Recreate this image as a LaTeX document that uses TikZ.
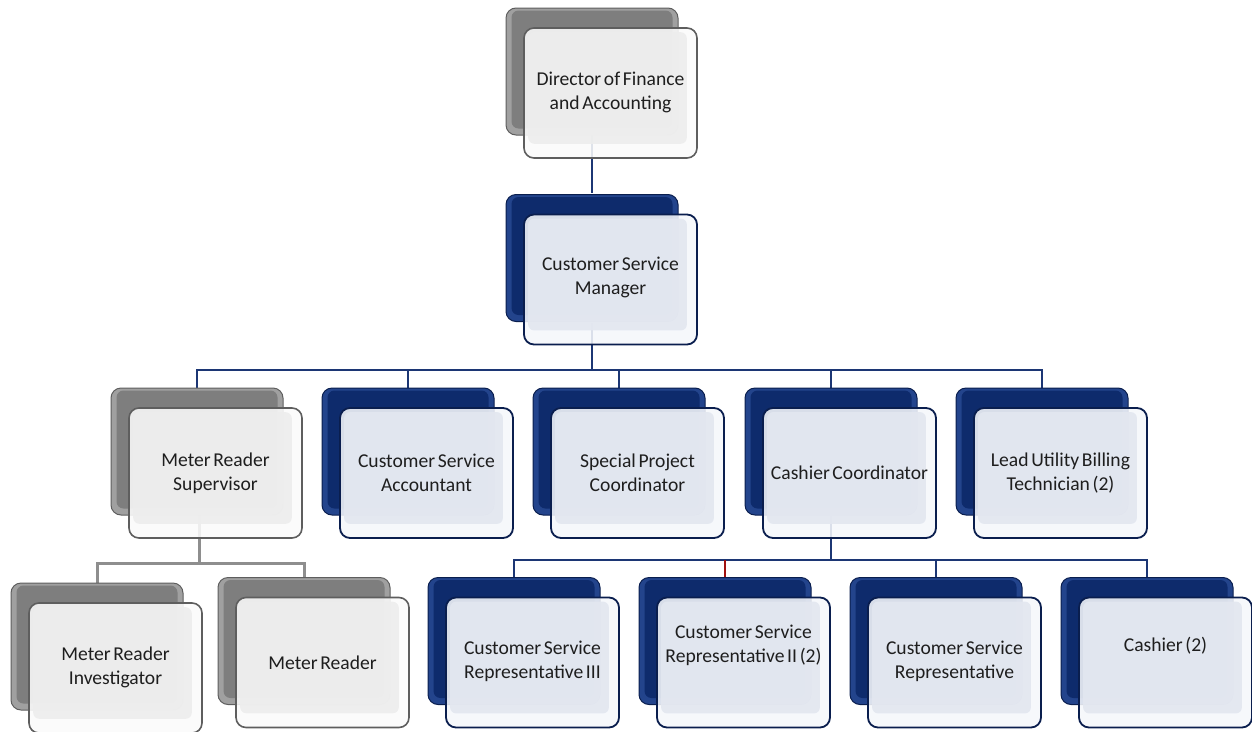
\documentclass[tikz,border=0pt]{standalone}
\usepackage{fontspec}
\setmainfont{Carlito}[WordSpace=0.6]
\definecolor{navyD}{HTML}{0A1E4E}
\definecolor{navyM}{HTML}{0E2B6C}
\definecolor{navyL}{HTML}{23448C}
\definecolor{frontN}{HTML}{E3E7F0}
\definecolor{frontNo}{HTML}{F5F7FB}
\definecolor{grayD}{HTML}{5E5E5E}
\definecolor{grayM}{HTML}{7E7E7E}
\definecolor{grayL}{HTML}{A0A0A0}
\definecolor{frontG}{HTML}{EDEDED}
\definecolor{frontGo}{HTML}{FBFBFB}
\definecolor{lineN}{HTML}{1C3674}
\definecolor{lineG}{HTML}{8E8E8E}
\definecolor{lineR}{HTML}{A01010}
\definecolor{txt}{HTML}{1E1E1E}
\tikzset{
  boxbase/.style={rounded corners=10pt, inner sep=0pt},
  backN/.style={boxbase, draw=navyD, line width=1pt, fill=navyL,
    minimum width=172pt, minimum height=127pt},
  backinN/.style={fill=navyM, rounded corners=7pt},
  backG/.style={boxbase, draw=grayD, line width=1pt, fill=grayL,
    minimum width=172pt, minimum height=127pt},
  backinG/.style={fill=grayM, rounded corners=7pt},
  frontN/.style={boxbase, draw=navyD, line width=1.8pt, fill=frontNo, fill opacity=0.88,
    minimum width=173pt, minimum height=130pt},
  frontinN/.style={fill=frontN, fill opacity=0.9, rounded corners=6pt},
  frontG/.style={boxbase, draw=grayD, line width=1.6pt, fill=frontGo, fill opacity=0.88,
    minimum width=173pt, minimum height=130pt},
  frontinG/.style={fill=frontG, fill opacity=0.9, rounded corners=6pt},
  lbl/.style={text=txt, align=center, font=\fontsize{19.6}{24}\selectfont, inner sep=0pt},
  navyline/.style={draw=lineN, line width=2.6pt},
  grayline/.style={draw=lineG, line width=3pt},
  redline/.style={draw=lineR, line width=2.6pt},
}
\newcommand\orgbox[6]{%
  \node[back#4] (#1B) at (#2,#3) {};
  \path[backin#4] ([shift={(6pt,-3pt)}]#1B.north west) rectangle ([shift={(-6pt,7pt)}]#1B.south east);
  \node[front#4] (#1F) at ([shift={(18.5,21.5)}]#1B.center) {};
  \path[frontin#4] ([shift={(5pt,-5pt)}]#1F.north west) rectangle ([shift={(-11pt,15pt)}]#1F.south east);
  \node[lbl] (#1T) at ([shift={(0,#6)}]#1F.center) {#5};
}
\begin{document}
\begin{tikzpicture}[x=1pt,y=-1pt]
\useasboundingbox (0,0) rectangle (1252,731);
% connector anchors
\coordinate (bus1) at (592,370);
\coordinate (bus2) at (831,560);
\coordinate (bus2r) at (725,560);
\coordinate (bus3) at (199,563);
% connectors (drawn first, boxes are partly see-through)
\draw[navyline] (592,135) -- (592,193);
\draw[navyline] (592,323) -- (bus1);
\foreach \xx in {197,408,619,831,1042} \draw[navyline] (bus1) -| (\xx,388);
\draw[grayline] (199,515) -- (bus3);
\draw[grayline] (bus3) -| (97,583);
\draw[grayline] (bus3) -| (304,577);
\draw[navyline] (831,515) -- (bus2);
\draw[navyline] (bus2) -| (514,577);
\draw[navyline] (bus2) -| (1147,577);
\draw[navyline] (bus2) -| (936,577);
\draw[redline] (bus2r) -- (725,577);
% boxes
\orgbox{dir}{592}{71.5}{G}{Director of Finance\\and Accounting}{-1}
\orgbox{mgr}{592}{258}{N}{Customer Service\\Manager}{-2}
\orgbox{mrs}{197}{451.5}{G}{Meter Reader\\Supervisor}{0}
\orgbox{csa}{408}{451.5}{N}{Customer Service\\Accountant}{0}
\orgbox{spc}{619}{451.5}{N}{Special Project\\Coordinator}{0}
\orgbox{cc}{831}{451.5}{N}{Cashier Coordinator}{0}
\orgbox{lub}{1042}{451.5}{N}{Lead Utility Billing\\Technician (2)}{0}
\orgbox{mri}{97}{646.5}{G}{Meter Reader\\Investigator}{-1}
\orgbox{mr}{304}{641}{G}{Meter Reader}{0}
\orgbox{csr3}{514}{641}{N}{Customer Service\\Representative III}{-1}
\orgbox{csr2}{725}{641}{N}{Customer Service\\Representative II (2)}{-17}
\orgbox{csr}{936}{641}{N}{Customer Service\\Representative}{-1}
\orgbox{cash}{1147}{641}{N}{Cashier (2)}{-17}
\end{tikzpicture}
\end{document}
